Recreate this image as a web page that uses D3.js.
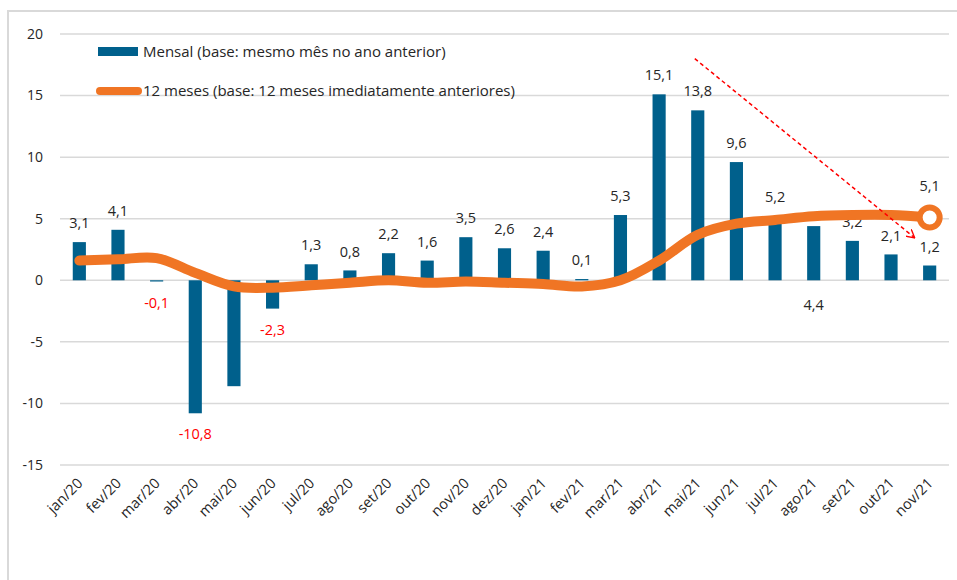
<!DOCTYPE html>
<html>
<head>
<meta charset="utf-8">
<script src="https://cdn.jsdelivr.net/npm/d3@7/dist/d3.min.js"></script>
<style>
  body { margin: 0; background: #fff; }
  text { font-family: "Open Sans", sans-serif; fill: #262626; }
</style>
</head>
<body>
<svg id="chart" width="957" height="580"></svg>
<script>
// meses (jan/20 .. nov/21)
const meses = ["jan/20","fev/20","mar/20","abr/20","mai/20","jun/20","jul/20","ago/20","set/20","out/20","nov/20","dez/20",
               "jan/21","fev/21","mar/21","abr/21","mai/21","jun/21","jul/21","ago/21","set/21","out/21","nov/21"];

// variação mensal (base: mesmo mês no ano anterior)
const mensal = [3.1, 4.1, -0.1, -10.8, -8.6, -2.3, 1.3, 0.8, 2.2, 1.6, 3.5, 2.6,
                2.4, 0.1, 5.3, 15.1, 13.8, 9.6, 5.2, 4.4, 3.2, 2.1, 1.2];

// acumulado 12 meses
const dozeMeses = [1.6, 1.7, 1.8, 0.6, -0.5, -0.6, -0.4, -0.2, 0.0, -0.2, -0.1, -0.2,
                   -0.3, -0.5, 0.0, 1.6, 3.7, 4.6, 4.9, 5.2, 5.3, 5.3, 5.1];

// meses sem rótulo, e rótulos deslocados (valor onde o rótulo foi colocado)
const semRotulo = ["mai/20"];
const rotuloMovido = { "ago/21": -2.0 };

const yTicks = [-15, -10, -5, 0, 5, 10, 15, 20];

const legenda = ["Mensal (base: mesmo mês no ano anterior)",
                 "12 meses (base: 12 meses imediatamente anteriores)"];

// seta tracejada (mês, valor)
const setaInicio = ["mai/21", 18.0];
const setaFim = ["nov/21", 3.45];

const azul = "#00608C";
const laranja = "#F07524";

const svg = d3.select("#chart");
const margin = { top: 34, left: 60, right: 8 };

const x = d3.scaleBand()
    .domain(meses)
    .range([margin.left, 949])
    .paddingInner(0.66)
    .paddingOuter(0.33);

const y = d3.scaleLinear()
    .domain([-15, 20])
    .range([465, 34]);

const fmt = v => d3.format(".1f")(v).replace(".", ",").replace("\u2212", "-");
const cx = m => x(m) + x.bandwidth() / 2;

// moldura
svg.append("rect")
    .attr("x", 8).attr("y", 11)
    .attr("width", 1000).attr("height", 700)
    .attr("fill", "none")
    .attr("stroke", "#d9d9d9")
    .attr("stroke-width", 2);

// grade
svg.append("g")
    .selectAll("line")
    .data(yTicks)
    .enter()
    .append("line")
    .attr("x1", margin.left).attr("x2", 949)
    .attr("y1", d => y(d)).attr("y2", d => y(d))
    .attr("stroke", "#d9d9d9")
    .attr("stroke-width", 1.5);

// eixo y
svg.append("g")
    .selectAll("text")
    .data(yTicks)
    .enter()
    .append("text")
    .attr("x", 43)
    .attr("y", d => y(d))
    .attr("dy", "0.35em")
    .attr("text-anchor", "end")
    .style("font-size", "14px")
    .text(d => d);

// eixo x
svg.append("g")
    .selectAll("text")
    .data(meses)
    .enter()
    .append("text")
    .attr("transform", d => `translate(${cx(d) - 3}, 477) rotate(-45)`)
    .attr("text-anchor", "end")
    .attr("dy", "0.7em")
    .style("font-size", "14.5px")
    .text(d => d);

// barras
svg.append("g")
    .selectAll("rect")
    .data(mensal)
    .enter()
    .append("rect")
    .attr("x", (d, i) => x(meses[i]))
    .attr("y", d => y(Math.max(0, d)))
    .attr("width", x.bandwidth())
    .attr("height", d => Math.abs(y(d) - y(0)))
    .attr("fill", azul);

// rótulos das barras
svg.append("g")
    .selectAll("text")
    .data(mensal.map((v, i) => ({ v, m: meses[i] })).filter(d => !semRotulo.includes(d.m)))
    .enter()
    .append("text")
    .attr("x", d => cx(d.m))
    .attr("y", d => {
        if (rotuloMovido[d.m] !== undefined) return y(rotuloMovido[d.m]);
        return d.v >= 0 ? y(d.v) - 19 : y(d.v) + 21;
    })
    .attr("dy", "0.35em")
    .attr("text-anchor", "middle")
    .style("font-size", "14.5px")
    .style("fill", d => d.v < 0 ? "#ff0000" : "#262626")
    .text(d => fmt(d.v));

// linha 12 meses
const line = d3.line()
    .x((d, i) => cx(meses[i]))
    .y(d => y(d))
    .curve(d3.curveCatmullRom.alpha(0.5));

svg.append("path")
    .datum(dozeMeses)
    .attr("d", line)
    .attr("fill", "none")
    .attr("stroke", laranja)
    .attr("stroke-width", 10)
    .attr("stroke-linecap", "round")
    .attr("stroke-linejoin", "round");

const ultimo = meses.length - 1;
svg.append("circle")
    .attr("cx", cx(meses[ultimo]))
    .attr("cy", y(dozeMeses[ultimo]))
    .attr("r", 10)
    .attr("fill", "#fff")
    .attr("stroke", laranja)
    .attr("stroke-width", 6);

svg.append("text")
    .attr("x", cx(meses[ultimo]))
    .attr("y", y(dozeMeses[ultimo]) - 32)
    .attr("dy", "0.35em")
    .attr("text-anchor", "middle")
    .style("font-size", "14.5px")
    .text(fmt(dozeMeses[ultimo]));

// seta tracejada
svg.append("defs").append("marker")
    .attr("id", "ponta")
    .attr("viewBox", "0 0 10 10")
    .attr("refX", 9).attr("refY", 5)
    .attr("markerWidth", 9).attr("markerHeight", 9)
    .attr("markerUnits", "userSpaceOnUse")
    .attr("orient", "auto")
    .append("path")
    .attr("d", "M0,0 L9,5 L0,10")
    .attr("fill", "none")
    .attr("stroke", "#ff0000")
    .attr("stroke-width", 1.5);

svg.append("line")
    .attr("x1", cx(setaInicio[0]) - 3)
    .attr("y1", y(setaInicio[1]))
    .attr("x2", cx(setaFim[0]) - 15)
    .attr("y2", y(setaFim[1]))
    .attr("stroke", "#ff0000")
    .attr("stroke-width", 1.5)
    .attr("stroke-dasharray", "4,3")
    .attr("marker-end", "url(#ponta)");

// legenda
const leg = svg.append("g").attr("transform", "translate(98, 0)");

leg.append("rect")
    .attr("x", 0).attr("y", 47)
    .attr("width", 40).attr("height", 9)
    .attr("fill", azul);

leg.append("line")
    .attr("x1", 2).attr("x2", 40)
    .attr("y1", 91).attr("y2", 91)
    .attr("stroke", laranja)
    .attr("stroke-width", 8)
    .attr("stroke-linecap", "round");

leg.selectAll("text")
    .data(legenda)
    .enter()
    .append("text")
    .attr("x", 45)
    .attr("y", (d, i) => 52 + i * 39)
    .attr("dy", "0.35em")
    .style("font-size", "15px")
    .text(d => d);
</script>
</body>
</html>
